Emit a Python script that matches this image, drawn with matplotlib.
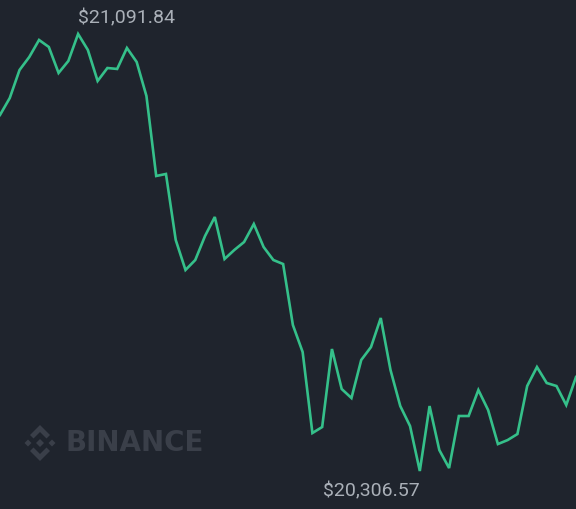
import numpy as np
import matplotlib.pyplot as plt
from matplotlib.patches import Polygon

prices = [20946.3, 20976.8, 21027.1, 21050.5, 21081.1, 21068.5, 21021.8, 21043.3, 21091.84, 21063.1,
          21007.4, 21030.7, 21029.0, 21066.7, 21041.5, 20980.4, 20836.7, 20840.3, 20721.7, 20667.8,
          20685.7, 20728.8, 20763.0, 20687.5, 20703.7, 20718.0, 20750.4, 20709.1, 20685.7, 20678.5,
          20568.9, 20520.4, 20374.8, 20385.6, 20525.8, 20453.9, 20437.7, 20506.0, 20529.3, 20581.5,
          20488.0, 20423.3, 20387.4, 20306.57, 20423.3, 20344.2, 20311.9, 20405.4, 20405.4, 20452.1,
          20416.1, 20355.0, 20362.2, 20373.0, 20459.3, 20493.4, 20464.7, 20459.3, 20425.1, 20475.4]
x = np.arange(len(prices))

bg = '#1f242d'
W, H = 576, 509

fig = plt.figure(figsize=(W / 100, H / 100), dpi=100, facecolor=bg)
ax = fig.add_axes([0, 0, 1, 1], facecolor=bg)

# binance watermark
def px(pts, cx, cy):
    return [((cx + a) / W, 1 - (cy - b) / H) for a, b in pts]

wm = '#3a3f49'
logo_cx, logo_cy = 40, 443
shapes = [
    [(-10, 8), (0, 18), (10, 8), (6.5, 4.5), (0, 11), (-6.5, 4.5)],
    [(-10, -8), (0, -18), (10, -8), (6.5, -4.5), (0, -11), (-6.5, -4.5)],
    [(0, 4), (4, 0), (0, -4), (-4, 0)],
    [(-12, 3.5), (-8.5, 0), (-12, -3.5), (-15.5, 0)],
    [(12, 3.5), (15.5, 0), (12, -3.5), (8.5, 0)],
]
for s in shapes:
    fig.patches.append(Polygon(px(s, logo_cx, logo_cy), closed=True, transform=fig.transFigure,
                               facecolor=wm, edgecolor='none', zorder=0))
fig.text(66 / W, 1 - 443 / H, 'BINANCE', color=wm, fontsize=20, fontweight='bold',
         family='DejaVu Sans', ha='left', va='center', zorder=0)

ax.plot(x, prices, color='#35c08a', lw=1.9, solid_joinstyle='miter', zorder=3)
ax.set_xlim(0, len(prices) - 1)
ax.set_ylim(20238.3, 21152.9)
ax.axis('off')

imax = int(np.argmax(prices))
imin = int(np.argmin(prices))
lbl = dict(color='#aab0b8', fontsize=14, family=['Roboto', 'DejaVu Sans'])
ax.annotate(f'${prices[imax]:,.2f}', (x[imax], prices[imax]), xytext=(0, 5),
            textcoords='offset points', ha='left', va='bottom', **lbl)
ax.annotate(f'${prices[imin]:,.2f}', (x[imin], prices[imin]), xytext=(0, -8),
            textcoords='offset points', ha='right', va='top', **lbl)

fig.savefig('out.png', dpi=100, facecolor=bg)
